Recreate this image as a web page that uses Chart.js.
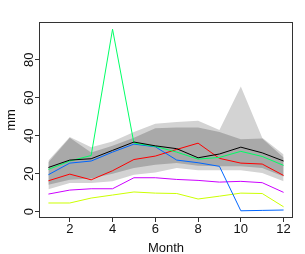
<!DOCTYPE html>
<html>
<head>
<meta charset="utf-8">
<script src="https://cdn.jsdelivr.net/npm/chart.js@4"></script>
<style>
  html, body { margin: 0; padding: 0; background: #fff; }
  #contenedor { width: 305px; height: 254px; }
</style>
</head>
<body>
<div id="contenedor"><canvas id="plot1"></canvas></div>
<script>
let meses = [1, 2, 3, 4, 5, 6, 7, 8, 9, 10, 11, 12];
let ticksX = [2, 4, 6, 8, 10, 12];
let ticksY = [0, 20, 40, 60, 80];

let serieNegra    = [23.3, 27.2, 27.9, 32.3, 36.7, 34.7, 33.2, 28.4, 30.4, 34.0, 31.0, 26.7];
let serieVerde    = [22.3, 26.7, 29.6, 96.1, 36.1, 34.4, 31.4, 27.7, 28.6, 31.8, 29.1, 24.4];
let serieAzul     = [19.5, 25.6, 26.7, 31.4, 35.6, 34.2, 27.2, 25.8, 23.9, 0.5, 0.7, 0.9];
let serieRoja     = [16.3, 19.8, 16.8, 21.6, 27.5, 29.3, 32.8, 36.1, 28.1, 25.6, 25.1, 19.1];
let serieMagenta  = [9.3, 11.4, 12.1, 12.1, 17.9, 17.9, 17.0, 16.5, 15.6, 16.0, 15.3, 10.2];
let serieAmarilla = [4.6, 4.6, 7.2, 8.8, 10.4, 9.8, 9.6, 6.7, 8.2, 9.8, 9.6, 2.6];

// bandas grises (clara = extremos, oscura = interior)
let bandaClaraSup  = [27.0, 39.3, 34.0, 37.0, 42.0, 46.3, 47.2, 47.9, 43.0, 66.0, 39.0, 30.2];
let bandaClaraInf  = [11.9, 15.1, 15.1, 16.0, 19.5, 20.7, 23.0, 21.8, 21.8, 21.8, 20.4, 16.0];
let bandaOscuraSup = [26.0, 39.0, 31.2, 34.8, 39.0, 44.0, 44.4, 44.4, 42.0, 38.2, 38.6, 28.5];
let bandaOscuraInf = [14.2, 16.8, 17.5, 20.0, 23.0, 24.7, 25.6, 24.2, 23.9, 23.9, 23.0, 18.6];

let aPuntos = (arr) => arr.map((v, i) => ({x: meses[i], y: v}));

let linea = (datos, color) => ({
    data: aPuntos(datos),
    borderColor: color,
    borderWidth: 1,
    pointRadius: 0,
    tension: 0,
    fill: false,
    order: 0
});

let banda = (datos, color, relleno, orden) => ({
    data: aPuntos(datos),
    borderColor: 'rgba(0,0,0,0)',
    borderWidth: 0,
    backgroundColor: color,
    pointRadius: 0,
    tension: 0,
    fill: relleno,
    order: orden
});

let fijarTicks = (valores) => (scale) => {
    scale.ticks = valores.map(v => ({value: v}));
};

let textoEjes = {
    id: 'textoEjes',
    afterDraw: (chart) => {
        let ctx = chart.ctx;
        let area = chart.chartArea;
        let ejeX = chart.scales.x;
        let ejeY = chart.scales.y;
        ctx.save();
        ctx.strokeStyle = '#333';
        ctx.lineWidth = 1;
        ctx.strokeRect(area.left + 0.5, area.top + 0.5, area.right - area.left - 1, area.bottom - area.top - 1);

        ctx.fillStyle = '#111';
        ctx.font = '13px "Liberation Sans", Arial, sans-serif';
        ctx.textAlign = 'center';
        ctx.textBaseline = 'alphabetic';
        ticksX.forEach(v => ctx.fillText(String(v), ejeX.getPixelForValue(v), area.bottom + 14.5));
        ctx.fillText('Month', (area.left + area.right) / 2, area.bottom + 33.5);

        ticksY.forEach(v => {
            ctx.save();
            ctx.translate(area.left - 6.5, ejeY.getPixelForValue(v));
            ctx.rotate(-Math.PI / 2);
            ctx.fillText(String(v), 0, 0);
            ctx.restore();
        });

        ctx.save();
        ctx.translate(15, (area.top + area.bottom) / 2);
        ctx.rotate(-Math.PI / 2);
        ctx.fillText('mm', 0, 0);
        ctx.restore();
        ctx.restore();
    }
};

let plotRef = document.getElementById('plot1');
let config1 = {
    type: 'line',
    data: {
        datasets: [
            banda(bandaClaraSup, '#d3d3d3', '+1', 2),
            banda(bandaClaraInf, '#d3d3d3', false, 2),
            banda(bandaOscuraSup, '#a9a9a9', '+1', 1),
            banda(bandaOscuraInf, '#a9a9a9', false, 1),
            linea(serieNegra, '#000000'),
            linea(serieVerde, '#00FF66'),
            linea(serieAzul, '#0066FF'),
            linea(serieRoja, '#FF0000'),
            linea(serieMagenta, '#CC00FF'),
            linea(serieAmarilla, '#CCFF00')
        ]
    },
    options: {
        responsive: true,
        maintainAspectRatio: false,
        animation: false,
        layout: { padding: { left: 0, right: 12, top: 22, bottom: 0 } },
        plugins: { legend: { display: false }, tooltip: { enabled: false } },
        scales: {
            x: {
                type: 'linear',
                min: 0.56,
                max: 12.44,
                afterBuildTicks: fijarTicks(ticksX),
                afterFit: (s) => { s.height = 36; },
                ticks: { display: false },
                border: { display: false },
                grid: { drawOnChartArea: false, drawTicks: true, tickLength: 4, color: '#333' }
            },
            y: {
                type: 'linear',
                min: -3.3,
                max: 99.9,
                afterBuildTicks: fijarTicks(ticksY),
                afterFit: (s) => { s.width = 39; },
                ticks: { display: false },
                border: { display: false },
                grid: { drawOnChartArea: false, drawTicks: true, tickLength: 4, color: '#333' }
            }
        }
    },
    plugins: [textoEjes]
};

let chart1 = new Chart(plotRef, config1);
</script>
</body>
</html>
